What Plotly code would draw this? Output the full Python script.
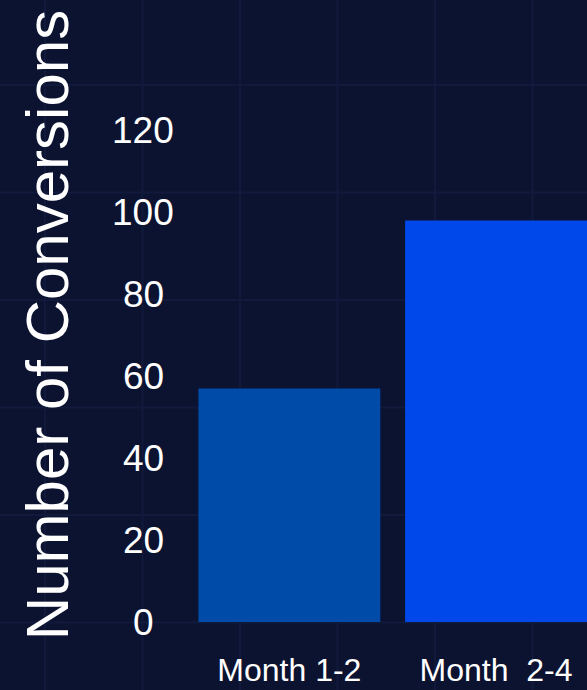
import plotly.graph_objects as go

# ---- data ----
categories = ["Month 1-2", "Month\u00a0 2-4"]
conversions = [57, 98]
bar_colors = ["#004BA8", "#0048EA"]
y_ticks = [0, 20, 40, 60, 80, 100, 120]
y_tick_labels = [str(v) for v in y_ticks]

# ---- layout constants ----
W, H = 587, 690
ML, MR, MT, MB = 186, 0, 28, 68
BG = "#0C1330"
GRID = "#111A3C"
FONT = "Arial, Liberation Sans, sans-serif"

fig = go.Figure()
fig.add_trace(go.Bar(
    x=categories, y=conversions,
    marker=dict(color=bar_colors, line=dict(width=0)),
    showlegend=False,
))

# faint decorative background grid (pixel spacing converted to paper coords)
pw, ph = W - ML - MR, H - MT - MB
shapes = []
gx0, gdx = 45, 97.5
gy0, gdy = 85, 107.5
x = gx0
while x < W:
    xp = (x - ML) / pw
    shapes.append(dict(type="line", xref="paper", yref="paper",
                       x0=xp, x1=xp, y0=(MT + ph - H) / ph, y1=(MT + ph) / ph,
                       line=dict(color=GRID, width=2), layer="below"))
    x += gdx
y = gy0 - gdy
while y < H:
    yp = (MT + ph - y) / ph
    shapes.append(dict(type="line", xref="paper", yref="paper",
                       x0=-ML / pw, x1=(W - ML) / pw, y0=yp, y1=yp,
                       line=dict(color=GRID, width=2), layer="below"))
    y += gdy

# centred y tick labels, placed on the y axis scale
label_x = (143 - ML) / pw
annotations = [
    dict(x=label_x, xref="paper", y=v, yref="y", text=t, showarrow=False,
         xanchor="center", yanchor="middle",
         font=dict(size=37, color="white", family=FONT))
    for v, t in zip(y_ticks, y_tick_labels)
]

fig.update_layout(
    width=W, height=H,
    margin=dict(l=ML, r=MR, t=MT, b=MB, pad=0),
    paper_bgcolor=BG, plot_bgcolor=BG,
    font=dict(family=FONT, color="white"),
    bargap=0.12,
    shapes=shapes,
    annotations=annotations,
    xaxis=dict(
        range=[-0.5, 1.44],
        showgrid=False, zeroline=False, showline=False,
        tickfont=dict(size=32, color="white"),
        ticks="outside", ticklen=20, tickcolor="rgba(0,0,0,0)",
    ),
    yaxis=dict(
        range=[0, 145],
        tickvals=y_ticks,
        showticklabels=False,
        showgrid=False, zeroline=False, showline=False,
        title=dict(text="Number of Conversions",
                   font=dict(size=60, color="white"), standoff=97),
    ),
)

fig.write_html("out.html")
